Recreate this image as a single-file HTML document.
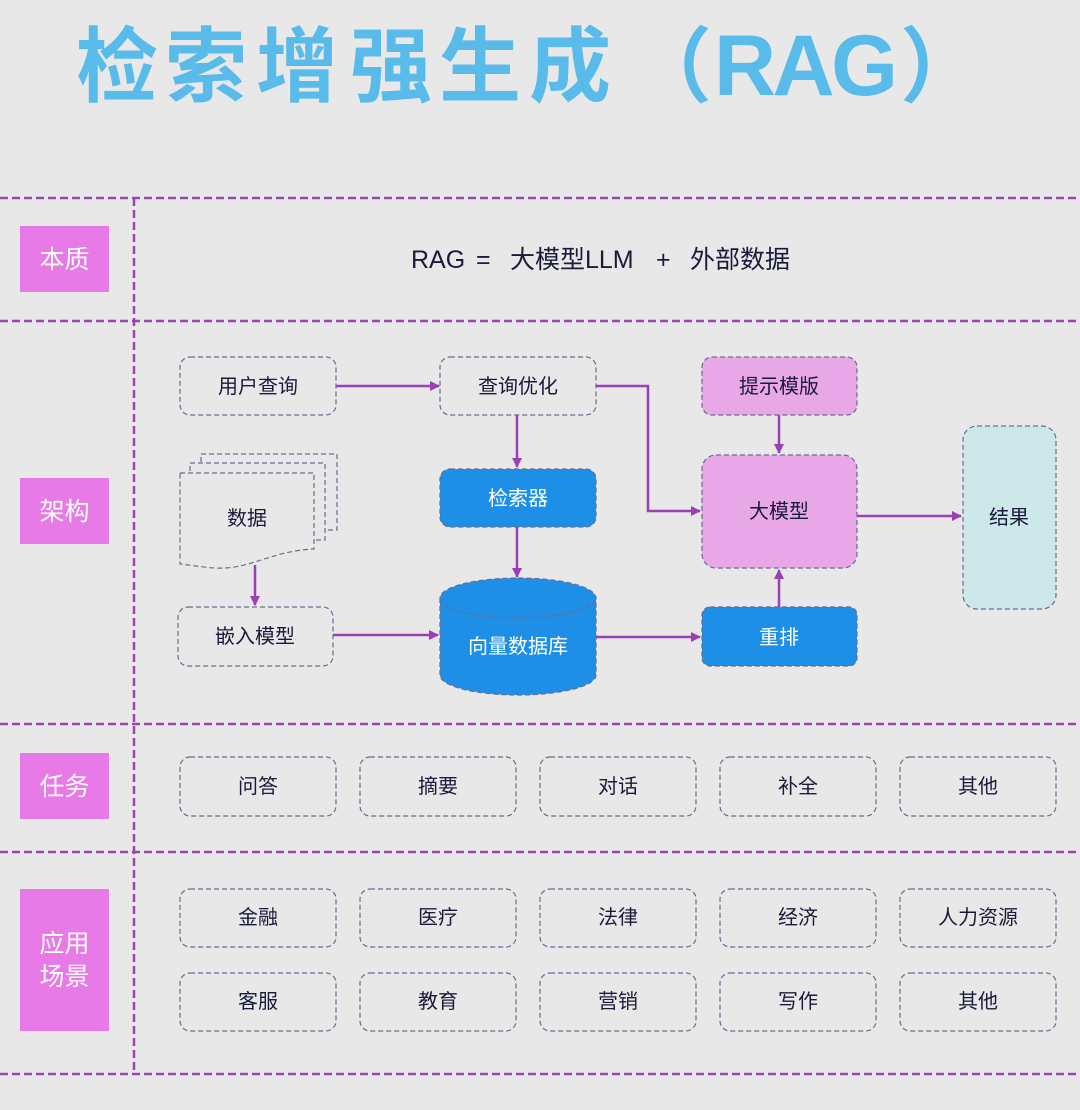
<!DOCTYPE html>
<html><head><meta charset="utf-8"><style>
html,body{margin:0;padding:0;background:#e8e8e8;}
svg{display:block;}
text{font-family:"Liberation Sans","Noto Sans CJK SC",sans-serif;}
</style></head><body>
<svg width="1080" height="1110" viewBox="0 0 1080 1110" xmlns="http://www.w3.org/2000/svg">
<defs>
<marker id="ah" markerWidth="10" markerHeight="10" refX="9" refY="5" orient="auto" markerUnits="userSpaceOnUse">
<path d="M0,0 L10,5 L0,10 Z" fill="#9b3fb5"/></marker>
</defs>
<rect width="1080" height="1110" fill="#e8e8e8"/>
<g font-size="82" font-weight="bold" fill="#58bbea" font-family="Noto Sans CJK SC,sans-serif">
<text x="76" y="95">检</text>
<text x="165" y="95">索</text>
<text x="256" y="95">增</text>
<text x="350" y="95">强</text>
<text x="439" y="95">生</text>
<text x="529" y="95">成</text>
<text x="630" y="95">（</text>
<text x="714" y="95" font-family="Liberation Sans,sans-serif" font-size="86" textLength="192" lengthAdjust="spacing" letter-spacing="8">RAG</text>
<text x="900" y="95">）</text>
</g>

<g stroke="#9b46b0" stroke-width="2.5" stroke-dasharray="8,4" fill="none">
<line x1="0" y1="198" x2="1080" y2="198"/>
<line x1="0" y1="321" x2="1080" y2="321"/>
<line x1="0" y1="724" x2="1080" y2="724"/>
<line x1="0" y1="852" x2="1080" y2="852"/>
<line x1="0" y1="1074" x2="1080" y2="1074"/>
<line x1="134" y1="198" x2="134" y2="1074"/>
</g>

<g fill="#e87ae8">
<rect x="20" y="226" width="89" height="66"/>
<rect x="20" y="478" width="89" height="66"/>
<rect x="20" y="753" width="89" height="66"/>
<rect x="20" y="889" width="89" height="142"/>
</g>
<g fill="#fff" font-size="25" text-anchor="middle">
<text x="64.5" y="268">本质</text>
<text x="64.5" y="520">架构</text>
<text x="64.5" y="795">任务</text>
<text x="64.5" y="952">应用</text>
<text x="64.5" y="985">场景</text>
</g>

<g font-size="25" fill="#1a1a3a">
<text x="411" y="268">RAG</text>
<text x="476" y="268">=</text>
<text x="510" y="268">大模型LLM</text>
<text x="656" y="268">+</text>
<text x="690" y="268">外部数据</text>
</g>

<g stroke="#6b6b90" stroke-width="1.2" stroke-dasharray="5,3">
<rect x="180" y="357" width="156" height="58" rx="10" fill="none"/>
<rect x="440" y="357" width="156" height="58" rx="10" fill="none"/>
<rect x="702" y="357" width="155" height="58" rx="10" fill="#e8a8e8"/>
<rect x="440" y="469" width="156" height="58" rx="10" fill="#1e8fe6"/>
<rect x="702" y="455" width="155" height="113" rx="14" fill="#e8a8e8"/>
<rect x="963" y="426" width="93" height="183" rx="14" fill="#cce8e8"/>
<rect x="178" y="607" width="155" height="59" rx="10" fill="none"/>
<rect x="702" y="607" width="155" height="59" rx="8" fill="#1e8fe6"/>
<path d="M201,454 H337 V530 H201 Z" fill="none"/>
<path d="M190,463 H325 V540 H190 Z" fill="#e8e8e8"/>
<path d="M180,473 H314 V549 C270,551 250,570 215,568 C200,567 190,565 180,564 Z" fill="#e8e8e8"/>
<path d="M440,598 V675 A78,20 0 0 0 596,675 V598 A78,20 0 0 0 440,598 Z" fill="#1e8fe6"/>
<path d="M440,598 A78,20 0 0 0 596,598" fill="none"/>
</g>

<g font-size="20" text-anchor="middle" fill="#1a1a3a">
<text x="258" y="393">用户查询</text>
<text x="518" y="393">查询优化</text>
<text x="779" y="393">提示模版</text>
<text x="779" y="518">大模型</text>
<text x="1009" y="524">结果</text>
<text x="247" y="525">数据</text>
<text x="255" y="643">嵌入模型</text>
</g>
<g font-size="20" text-anchor="middle" fill="#fff">
<text x="518" y="505">检索器</text>
<text x="518" y="653">向量数据库</text>
<text x="779" y="644">重排</text>
</g>

<g stroke="#9b3fb5" stroke-width="2.5" fill="none" marker-end="url(#ah)">
<line x1="336" y1="386" x2="439" y2="386"/>
<line x1="517" y1="415" x2="517" y2="467"/>
<polyline points="596,386 648,386 648,511 700,511"/>
<line x1="779" y1="415" x2="779" y2="453"/>
<line x1="857" y1="516" x2="961" y2="516"/>
<line x1="517" y1="527" x2="517" y2="577"/>
<line x1="255" y1="565" x2="255" y2="605"/>
<line x1="333" y1="635" x2="438" y2="635"/>
<line x1="596" y1="637" x2="700" y2="637"/>
<line x1="779" y1="607" x2="779" y2="570"/>
</g>

<g stroke="#6b6b90" stroke-width="1.2" stroke-dasharray="5,3" fill="none">
<rect x="180" y="757" width="156" height="59" rx="10"/>
<rect x="360" y="757" width="156" height="59" rx="10"/>
<rect x="540" y="757" width="156" height="59" rx="10"/>
<rect x="720" y="757" width="156" height="59" rx="10"/>
<rect x="900" y="757" width="156" height="59" rx="10"/>
<rect x="180" y="889" width="156" height="58" rx="10"/>
<rect x="360" y="889" width="156" height="58" rx="10"/>
<rect x="540" y="889" width="156" height="58" rx="10"/>
<rect x="720" y="889" width="156" height="58" rx="10"/>
<rect x="900" y="889" width="156" height="58" rx="10"/>
<rect x="180" y="973" width="156" height="58" rx="10"/>
<rect x="360" y="973" width="156" height="58" rx="10"/>
<rect x="540" y="973" width="156" height="58" rx="10"/>
<rect x="720" y="973" width="156" height="58" rx="10"/>
<rect x="900" y="973" width="156" height="58" rx="10"/>
</g>
<g font-size="20" text-anchor="middle" fill="#1a1a3a">
<text x="258" y="793">问答</text><text x="438" y="793">摘要</text><text x="618" y="793">对话</text><text x="798" y="793">补全</text><text x="978" y="793">其他</text>
<text x="258" y="924">金融</text><text x="438" y="924">医疗</text><text x="618" y="924">法律</text><text x="798" y="924">经济</text><text x="978" y="924">人力资源</text>
<text x="258" y="1008">客服</text><text x="438" y="1008">教育</text><text x="618" y="1008">营销</text><text x="798" y="1008">写作</text><text x="978" y="1008">其他</text>
</g>
</svg>
</body></html>
